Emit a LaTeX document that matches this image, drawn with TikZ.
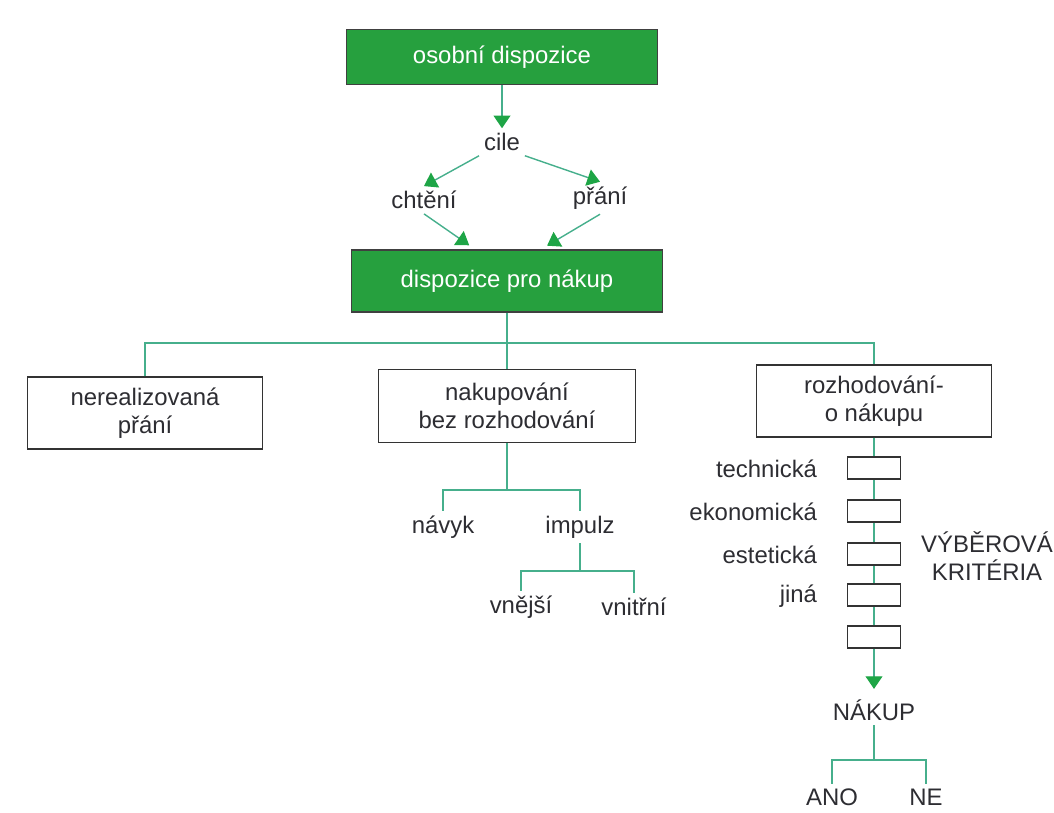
\documentclass[tikz,border=0pt]{standalone}
\usepackage{fontspec}
\setmainfont{Liberation Sans}
\usetikzlibrary{arrows.meta}
\definecolor{boxgreen}{RGB}{38,160,62}
\definecolor{linegreen}{RGB}{70,175,140}
\definecolor{tipgreen}{RGB}{30,165,70}
\definecolor{txtgray}{RGB}{45,45,50}
\begin{document}
\begin{tikzpicture}[x=0.025cm, y=-0.025cm,
  every node/.style={font=\fontsize{17}{20}\selectfont, text=txtgray},
  greenbox/.style={fill=boxgreen, draw=black!75, line width=1pt, text=white, minimum width=7.775cm, inner sep=0pt},
  whitebox/.style={fill=white, draw=black!80, line width=1pt, align=center, minimum height=1.8cm, inner sep=0pt},
  critbox/.style={fill=white, draw=black!80, line width=0.9pt, minimum width=1.325cm, minimum height=0.55cm, inner sep=0pt},
  link/.style={draw=linegreen, line width=1pt},
  tolink/.style={link, -{Triangle[length=9pt, width=12pt, color=tipgreen]}}]
  \useasboundingbox (0,0) rectangle (1054,813);
  % top part
  \node[greenbox, minimum height=1.375cm] (osobni) at (502,57) {osobní dispozice};
  \node (cile) at (502,142) {cile};
  \node (chteni) at (424,200) {chtění};
  \node (prani) at (600,198) {přání};
  \node[greenbox, minimum height=1.55cm] (dpn) at (507,281) {dispozice pro nákup};
  \draw[tolink] (osobni.south) -- (cile.north);
  \draw[tolink] (cile.south west) -- (chteni.north);
  \draw[tolink] (cile.south east) -- (prani.north);
  \draw[tolink, shorten >=5pt] (chteni.south) -- ([xshift=-0.8cm]dpn.north);
  \draw[tolink, shorten >=5pt] (prani.south) -- ([xshift=0.85cm]dpn.north);
  % three ways
  \node[whitebox, minimum width=5.875cm] (nereal) at (145,413) {nerealizovaná\\přání};
  \node[whitebox, minimum width=6.425cm, minimum height=1.825cm] (bezrozh) at (507,406) {nakupování\\bez rozhodování};
  \node[whitebox, minimum width=5.875cm] (rozh) at (874,401) {rozhodování-\\o nákupu};
  \coordinate (split) at (507,343);
  \draw[link] (dpn.south) -- (bezrozh.north);
  \draw[link] (nereal.north) |- (split) -| (rozh.north);
  % shopping without decision
  \node (navyk) at (443,527) {návyk};
  \node (impulz) at (580,527) {impulz};
  \node (vnejsi) at (521,607) {vnější};
  \node (vnitrni) at (634,607) {vnitřní};
  \coordinate (habit) at (507,490);
  \coordinate (imp) at (580,571);
  \draw[link] (bezrozh.south) -- (habit);
  \draw[link] (navyk.north) |- (habit) -| (impulz.north);
  \draw[link] (impulz.south) -- (imp);
  \draw[link] (vnejsi.north) |- (imp) -| (vnitrni.north);
  % decision and criteria
  \node (nakup) at (874,710) {NÁKUP};
  \draw[tolink, shorten >=4pt] (rozh.south) -- (nakup.north);
  \node[critbox] (k1) at (874,468) {};
  \node[critbox] (k2) at (874,511) {};
  \node[critbox] (k3) at (874,554) {};
  \node[critbox] (k4) at (874,595) {};
  \node[critbox] (k5) at (874,637) {};
  \node[anchor=east] (technicka) at (822,469) {technická};
  \node[anchor=east] (ekonomicka) at (822,512) {ekonomická};
  \node[anchor=east] (esteticka) at (822,555) {estetická};
  \node[anchor=east] (jina) at (822,596) {jiná};
  \node[align=center] (kriteria) at (987,556) {VÝBĚROVÁ\\KRITÉRIA};
  % yes / no
  \node (ano) at (832,797) {ANO};
  \node (ne) at (926,797) {NE};
  \coordinate (volba) at (874,760);
  \draw[link] (nakup.south) -- (volba);
  \draw[link] (ano.north) |- (volba) -| (ne.north);
\end{tikzpicture}
\end{document}
